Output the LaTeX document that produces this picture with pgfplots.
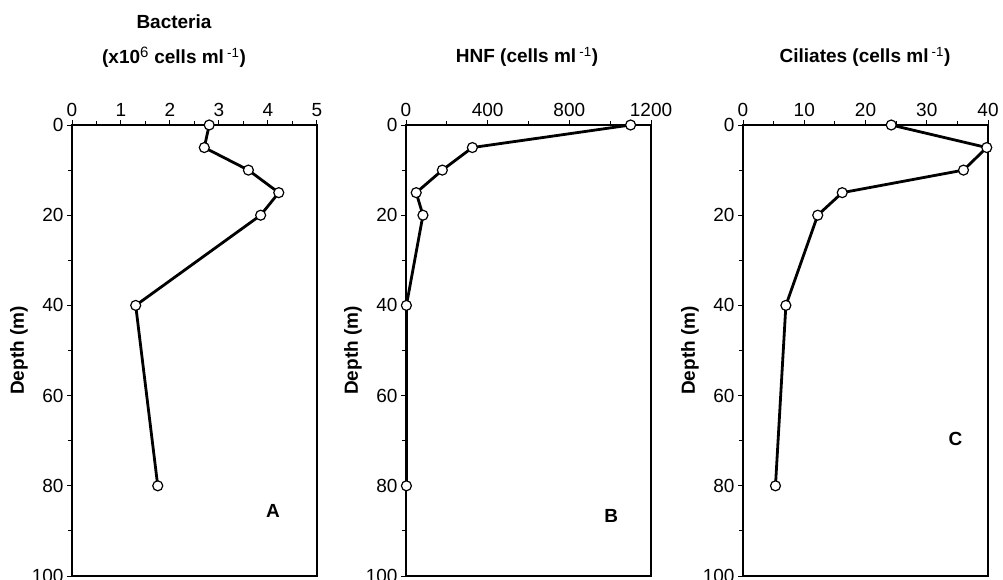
\documentclass[border=0pt]{standalone}
\usepackage{fontspec}
\setmainfont{Liberation Sans}
\usepackage{pgfplots}
\pgfplotsset{compat=1.18}
\newcommand\fs{\fontsize{19}{22}\selectfont}
\pgfplotsset{
  profile/.style={
    width=245pt, height=451pt, scale only axis,
    y dir=reverse, ymin=0, ymax=100,
    ytick={0,20,40,60,80,100}, minor y tick num=1,
    xtick pos=upper, ytick pos=left, xticklabel pos=upper,
    tick align=outside,
    major tick length=5pt, minor tick length=4pt,
    axis line style={line width=1.1pt},
    every tick/.style={line width=1pt, black},
    every minor tick/.style={line width=0.9pt, black},
    tick label style={font=\fs},
    /pgf/number format/assume math mode=true,
    /pgf/number format/1000 sep={},
    ylabel={\bfseries Depth (m)},
    ylabel style={font=\fs},
    ylabel shift=-3pt,
  },
  prof/.style={line width=2.8pt, black, mark=*, mark size=5pt,
      mark options={fill=white, draw=black, line width=1.2pt, solid}},
}
\begin{document}
\begin{tikzpicture}
\useasboundingbox (0,0) rectangle (1003pt,-580pt);
% Panel A
\begin{axis}[profile, at={(72pt,-125pt)}, anchor=north west,
  xmin=0, xmax=5, xtick={0,1,2,3,4,5}, minor x tick num=1]
\addplot[prof] coordinates {(2.8,0) (2.7,5) (3.6,10) (4.22,15) (3.85,20) (1.3,40) (1.75,80)};
\node[font=\fs\bfseries] at (axis cs:4.1,85.5) {A};
\end{axis}
% Panel B
\begin{axis}[profile, at={(406pt,-125pt)}, anchor=north west,
  xmin=0, xmax=1200, xtick={0,400,800,1200}, minor x tick num=1]
\addplot[prof] coordinates {(1100,0) (325,5) (178,10) (50,15) (83,20) (2,40) (2,80)};
\node[font=\fs\bfseries] at (axis cs:1005,86.7) {B};
\end{axis}
% Panel C
\begin{axis}[profile, at={(743pt,-125pt)}, anchor=north west,
  xmin=0, xmax=40, xtick={0,10,20,30,40}, minor x tick num=1]
\addplot[prof] coordinates {(24.2,0) (39.8,5) (36,10) (16.2,15) (12.2,20) (7,40) (5.3,80)};
\node[font=\fs\bfseries] at (axis cs:34.7,69.7) {C};
\end{axis}
% Titles
\node[font=\fs\bfseries] at (174pt,-22pt) {Bacteria};
\node[font=\fs\bfseries] at (174pt,-57pt) {(x10\textsuperscript{\mdseries\fontsize{15}{15}\selectfont 6} cells ml\,\textsuperscript{\mdseries -1})};
\node[font=\fs\bfseries] at (527pt,-57pt) {HNF (cells ml\,\textsuperscript{\mdseries -1})};
\node[font=\fs\bfseries] at (865pt,-57pt) {Ciliates (cells ml\,\textsuperscript{\mdseries -1})};
\end{tikzpicture}
\end{document}
